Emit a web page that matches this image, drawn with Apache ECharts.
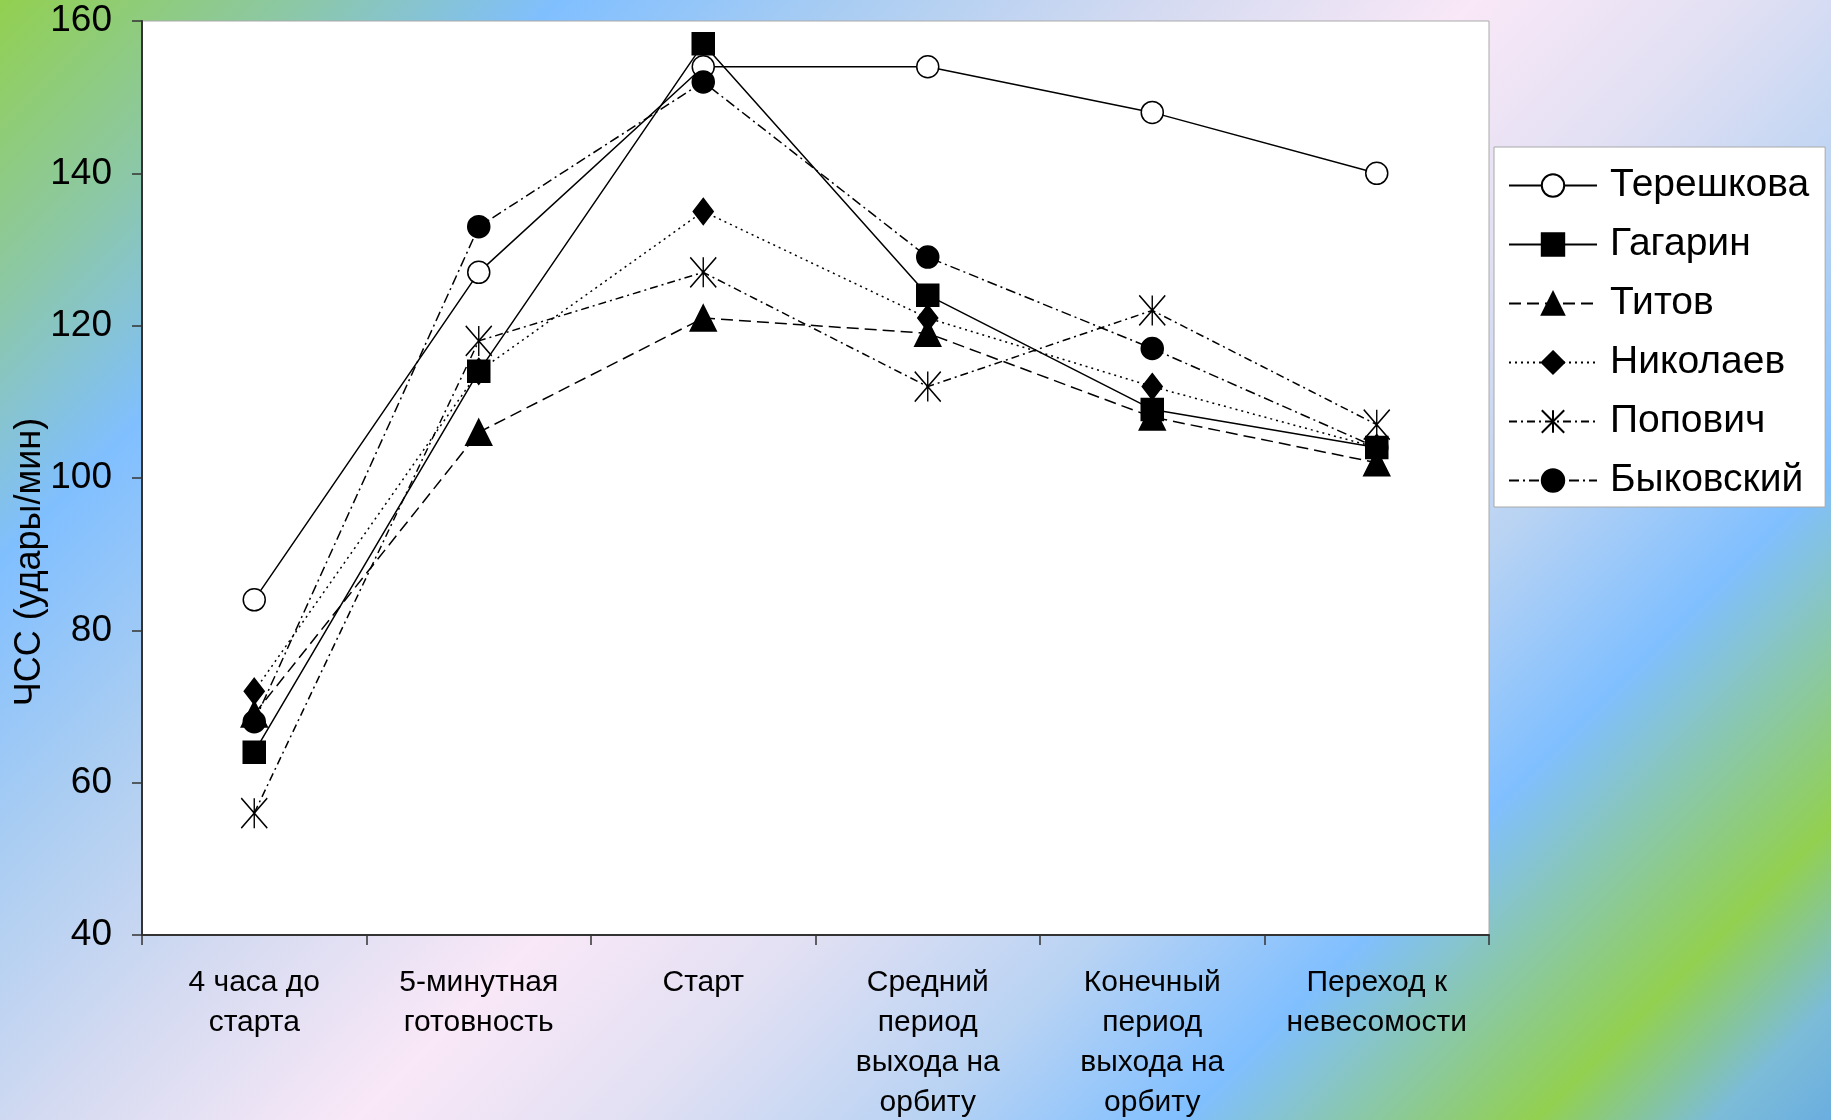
<!DOCTYPE html>
<html>
<head>
<meta charset="utf-8">
<script src="https://cdn.jsdelivr.net/npm/echarts@6/dist/echarts.min.js"></script>
<style>
  html, body { margin: 0; padding: 0; }
  body {
    width: 1831px; height: 1120px; overflow: hidden;
    background: linear-gradient(135deg,
      #92d050 0%, #8cc8a4 10%, #80bfff 19%, #aacdf2 29%, #d6dbf1 40%,
      #f9e8f7 50%, #e2e0f3 59%, #b9d3f3 69%, #80bfff 78%, #8ac8a8 84%,
      #92d050 90%, #7cbcd8 96%, #6aaee0 100%);
  }
  #chart { width: 1831px; height: 1120px; }
</style>
</head>
<body>
<div id="chart"></div>
<script>
// этапы полёта
const categories = ['4 часа до\nстарта', '5-минутная\nготовность', 'Старт',
  'Средний\nпериод\nвыхода на\nорбиту', 'Конечный\nпериод\nвыхода на\nорбиту', 'Переход к\nневесомости']
// ЧСС по космонавтам
const tereshkova = [84, 127, 154, 154, 148, 140]
const gagarin = [64, 114, 157, 124, 109, 104]
const titov = [69, 106, 121, 119, 108, 102]
const nikolaev = [72, 114, 135, 121, 112, 104]
const popovich = [56, 118, 127, 112, 122, 107]
const bykovsky = [68, 133, 152, 129, 117, 104]
// шкала Y
const yMin = 40
const yMax = 160
const yStep = 20
const yName = 'ЧСС (удары/мин)'

const font = 'Liberation Sans, Arial, sans-serif'
const asterisk = 'path://M0,0L10,12M10,0L0,12M5,0L5,12'

function line(name, data, symbol, size, type, fill) {
  return {
    name: name,
    type: 'line',
    data: data,
    symbol: symbol,
    symbolSize: size,
    lineStyle: { color: '#000', width: 1.5, type: type },
    itemStyle: { color: fill, borderColor: '#000', borderWidth: 1.5 },
    emphasis: { disabled: true },
    animation: false
  }
}

const chart = echarts.init(document.getElementById('chart'))
chart.setOption({
  backgroundColor: 'transparent',
  textStyle: { fontFamily: font },
  grid: {
    left: 142, right: 342, top: 21, bottom: 185,
    outerBoundsMode: 'none',
    containLabel: false,
    show: true, backgroundColor: '#fff', borderColor: '#aaa', borderWidth: 1
  },
  // подпись оси Y (ниже центра, как в оригинале)
  graphic: [{
    type: 'text',
    x: 30, y: 562,
    rotation: Math.PI / 2,
    style: { text: yName, fill: '#000', font: '36px ' + font, align: 'center', verticalAlign: 'middle' },
    silent: true
  }],
  legend: {
    orient: 'vertical',
    left: 1494, top: 147,
    backgroundColor: '#fff',
    borderColor: '#a8a8a8', borderWidth: 1,
    padding: [19, 16, 7, 14],
    itemWidth: 88, itemHeight: 28, itemGap: 20,
    textStyle: { fontSize: 39, color: '#000', fontFamily: font, padding: [0, 0, 0, 8] },
    data: ['Терешкова', 'Гагарин', 'Титов', 'Николаев', 'Попович', 'Быковский']
  },
  xAxis: {
    type: 'category',
    data: categories,
    boundaryGap: true,
    axisLine: { lineStyle: { color: '#333', width: 2 } },
    axisTick: { show: true, length: 10, inside: false, lineStyle: { color: '#333', width: 1.5 } },
    axisLabel: { color: '#000', fontSize: 30, lineHeight: 40, margin: 28, interval: 0, fontFamily: font },
    splitLine: { show: false }
  },
  yAxis: {
    type: 'value',
    min: yMin, max: yMax, interval: yStep,
    axisLine: { show: true, lineStyle: { color: '#333', width: 2 } },
    axisTick: { show: true, length: 10, lineStyle: { color: '#333', width: 1.5 } },
    axisLabel: { color: '#000', fontSize: 37, margin: 30, fontFamily: font },
    splitLine: { show: false }
  },
  series: [
    line('Терешкова', tereshkova, 'circle', 22, 'solid', '#fff'),
    line('Гагарин', gagarin, 'rect', 22, 'solid', '#000'),
    line('Титов', titov, 'triangle', 26, [12, 6], '#000'),
    line('Николаев', nikolaev, 'diamond', [20, 26], [2, 4], '#000'),
    line('Попович', popovich, asterisk, [26, 30], [8, 4, 2, 4], 'none'),
    line('Быковский', bykovsky, 'circle', 22, [10, 4, 2, 4], '#000')
  ]
})
</script>
</body>
</html>
